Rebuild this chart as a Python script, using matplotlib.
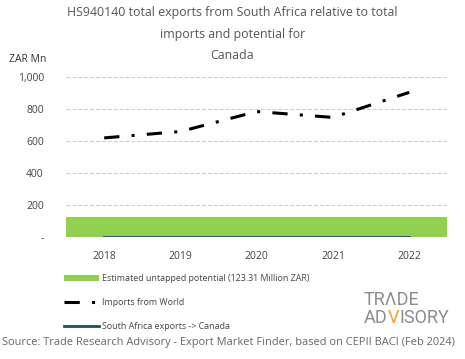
import matplotlib.pyplot as plt
import matplotlib.ticker as mticker

plt.rcParams['font.family'] = ['Open Sans', 'DejaVu Sans']

years = [2018, 2019, 2020, 2021, 2022]
imports_world = [620, 660, 785, 748, 905]
sa_exports = [0.5, 0.5, 0.5, 0.5, 0.5]
untapped = 123.31

fig = plt.figure(figsize=(4.65, 3.59), dpi=100)
ax = fig.add_axes([0.142, 0.34, 0.82, 0.445])

x = list(range(len(years)))
ax.bar(x, [untapped] * len(x), width=1.0, color='#92d050',
       label='Estimated untapped potential (123.31 Million ZAR)', zorder=2)
ax.plot(x, imports_world, color='black', lw=2.2, dashes=[5, 4, 1, 4],
        label='Imports from World', zorder=3)
ax.plot(x, sa_exports, color='#1d4f60', lw=2, label='South Africa exports -> Canada', zorder=4)

ax.set_xlim(-0.5, 4.5)
ax.set_ylim(0, 1000)
ax.set_yticks([0, 200, 400, 600, 800, 1000])
ax.yaxis.set_major_formatter(mticker.FuncFormatter(lambda v, p: '-' if v == 0 else f'{int(v):,}'))
ax.set_xticks(x)
ax.set_xticklabels([str(y) for y in years])
ax.tick_params(length=0, labelsize=7.5, colors='#444444', pad=10)
ax.tick_params(axis='y', pad=16)
ax.grid(axis='y', color='#d0d0d0', ls='--', lw=0.8, zorder=0)
for s in ax.spines.values():
    s.set_visible(False)

fig.text(0.5, 0.965, 'HS940140 total exports from South Africa relative to total',
         ha='center', va='center', fontsize=8.9, color='#555555')
fig.text(0.5, 0.905, 'imports and potential for', ha='center', va='center', fontsize=8.9, color='#555555')
fig.text(0.5, 0.845, 'Canada', ha='center', va='center', fontsize=8.9, color='#555555')
fig.text(0.02, 0.835, 'ZAR Mn', ha='left', va='center', fontsize=7.5, color='#333333')

# legend: bar first, then the two lines
handles, labels = ax.get_legend_handles_labels()
order = [2, 0, 1]
leg = ax.legend([handles[i] for i in order], [labels[i] for i in order],
                loc='upper left', bbox_to_anchor=(-0.005, -0.235), frameon=False,
                fontsize=6.4, labelspacing=1.65, handlelength=3.9, handletextpad=0.4,
                borderaxespad=0, borderpad=0)
for t in leg.get_texts():
    t.set_color('#444444')

# logo
logo = dict(fontsize=13, family=['Roboto', 'DejaVu Sans'])
fig.text(0.783, 0.163, 'TRΛDE', ha='left', va='center', color='#8c8c8c', **logo)
t1 = fig.text(0.783, 0.113, 'AD', ha='left', va='center', color='#8c8c8c', **logo)
t2 = ax.annotate('V', xy=(1, 0.5), xycoords=t1, ha='left', va='center', color='#f0a030', **logo)
ax.annotate('ISORY', xy=(1, 0.5), xycoords=t2, ha='left', va='center', color='#8c8c8c', **logo)

fig.text(0.005, 0.045, 'Source: Trade Research Advisory - Export Market Finder, based on CEPII BACI (Feb 2024)',
         ha='left', va='center', fontsize=7.9, color='#666666')

fig.savefig('out.png', dpi=100)
